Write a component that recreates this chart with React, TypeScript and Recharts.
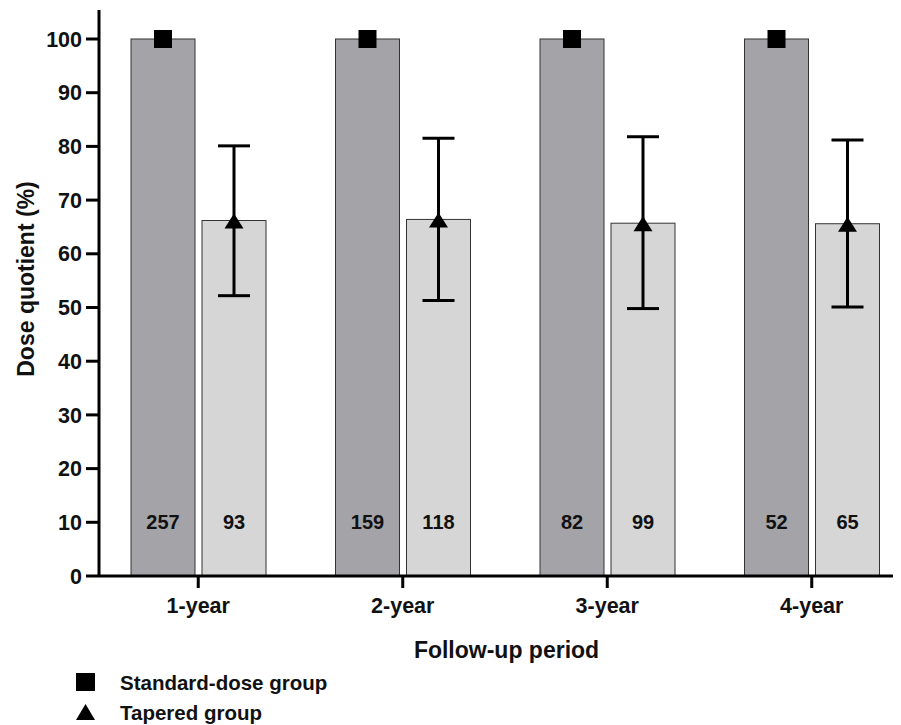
import React from 'react'
import { BarChart, Bar, XAxis, YAxis, ErrorBar, Legend } from 'recharts'

// values
const periods = ['1-year', '2-year', '3-year', '4-year']
const standardDose = [100, 100, 100, 100]
const standardN = [257, 159, 82, 52]
const taperedMean = [66.2, 66.4, 65.7, 65.6]
const taperedLower = [52.2, 51.3, 49.8, 50.1]
const taperedUpper = [80.1, 81.5, 81.8, 81.2]
const taperedN = [93, 118, 99, 65]
const yTicks = [0, 10, 20, 30, 40, 50, 60, 70, 80, 90, 100]

const COUNT_LEVEL = 10 // counts are printed at the y = 10 level
const FONT = '"Liberation Sans", Arial, Helvetica, sans-serif'

const data = periods.map((period, i) => ({
  period,
  standard: standardDose[i],
  standardN: standardN[i],
  tapered: taperedMean[i],
  taperedN: taperedN[i],
  taperedErr: [taperedMean[i] - taperedLower[i], taperedUpper[i] - taperedMean[i]],
}))

const countText = (cx: number, cy: number, n: number) => (
  <text
    x={cx}
    y={cy}
    textAnchor="middle"
    dominantBaseline="central"
    fontFamily={FONT}
    fontWeight="bold"
    fontSize={20}
    fill="#111"
  >
    {n}
  </text>
)

const StandardShape = (props: any) => {
  const { x, y, width, height, payload } = props
  const cx = x + width / 2
  const y10 = y + height - (height * COUNT_LEVEL) / payload.standard
  return (
    <g>
      <rect x={x} y={y} width={width} height={height} fill="#a4a3a8" stroke="#333" strokeWidth={1} />
      {countText(cx, y10, payload.standardN)}
      <rect x={cx - 9} y={y - 9} width={18} height={18} fill="#000" />
    </g>
  )
}

const TaperedShape = (props: any) => {
  const { x, y, width, height, payload } = props
  const cx = x + width / 2
  const y10 = y + height - (height * COUNT_LEVEL) / payload.tapered
  return (
    <g>
      <rect x={x} y={y} width={width} height={height} fill="#d6d6d6" stroke="#333" strokeWidth={1} />
      {countText(cx, y10, payload.taperedN)}
      <polygon points={`${cx},${y - 7} ${cx - 9.5},${y + 8} ${cx + 9.5},${y + 8}`} fill="#000" />
    </g>
  )
}

const LegendContent = (props: any) => {
  const items = props.payload || []
  return (
    <svg width={320} height={60}>
      {items.map((item: any, i: number) => {
        const cy = 12 + i * 30
        return (
          <g key={item.value}>
            {i === 0 ? (
              <rect x={8} y={cy - 9} width={19} height={18} fill="#000" />
            ) : (
              <polygon points={`17.5,${cy - 8} 8,${cy + 8} 27,${cy + 8}`} fill="#000" />
            )}
            <text
              x={52}
              y={cy}
              dominantBaseline="central"
              fontFamily={FONT}
              fontWeight="bold"
              fontSize={20.5}
              fill="#111"
            >
              {item.value}
            </text>
          </g>
        )
      })}
    </svg>
  )
}

const tickStyle = { fontFamily: FONT, fontWeight: 'bold', fontSize: 21.5, fill: '#111' }
const titleStyle = { fontFamily: FONT, fontWeight: 'bold', fontSize: 23, fill: '#111' }
const axisLine = { stroke: '#000', strokeWidth: 3 }

const YTitle = (props: any) => {
  const vb = props.viewBox || { x: 0, y: 2, width: 91, height: 566 }
  const x = vb.x + 26
  const y = vb.y + vb.height / 2 - 14
  return (
    <text
      x={x}
      y={y}
      transform={`rotate(-90, ${x}, ${y})`}
      textAnchor="middle"
      fontFamily={FONT}
      fontWeight="bold"
      fontSize={23}
      fill="#111"
    >
      Dose quotient (%)
    </text>
  )
}

export default function App() {
  return (
    <div style={{ width: 893, height: 717, overflow: 'hidden', position: 'relative' }}>
      <style>{'html,body{overflow:hidden}'}</style>
      <BarChart
        width={915}
        height={717}
        data={data}
        margin={{ top: 2, right: 9, bottom: 49, left: 0 }}
        barSize={64}
        barGap={7}
      >
        <XAxis
          dataKey="period"
          height={100}
          interval={0}
          padding={{ left: -3, right: 0 }}
          tick={tickStyle}
          tickSize={12}
          tickMargin={10}
          axisLine={axisLine}
          tickLine={axisLine}
          label={{
            value: 'Follow-up period',
            position: 'insideBottom',
            offset: 18,
            style: { ...titleStyle, textAnchor: 'middle' },
          }}
        />
        <YAxis
          width={91}
          domain={[0, 105.4]}
          ticks={yTicks}
          interval={0}
          tick={tickStyle}
          tickSize={13}
          tickMargin={4}
          axisLine={axisLine}
          tickLine={axisLine}
          allowDataOverflow
          label={<YTitle />}
        />
        <Bar
          dataKey="standard"
          name="Standard-dose group"
          fill="#a4a3a8"
          shape={StandardShape}
          isAnimationActive={false}
        />
        <Bar
          dataKey="tapered"
          name="Tapered group"
          fill="#d6d6d6"
          shape={TaperedShape}
          isAnimationActive={false}
        >
          <ErrorBar dataKey="taperedErr" width={16} stroke="#000" strokeWidth={3} direction="y" />
        </Bar>
        <Legend
          layout="vertical"
          align="center"
          verticalAlign="middle"
          content={LegendContent}
          wrapperStyle={{ left: 60, top: 662, width: 320, height: 60 }}
        />
      </BarChart>
    </div>
  )
}
